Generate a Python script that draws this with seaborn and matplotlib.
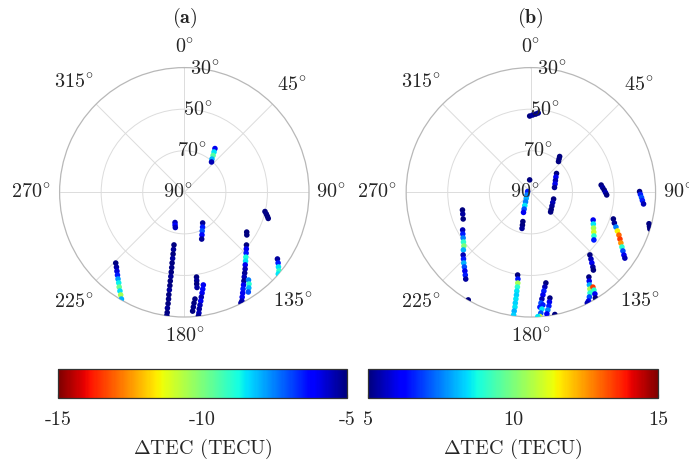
import numpy as np
import pandas as pd
import matplotlib
matplotlib.use("Agg")
import matplotlib.pyplot as plt
import seaborn as sns
from matplotlib import cm, colors

# ---- data: (a) negative dTEC, (b) positive dTEC ; azimuth deg, elevation deg ----
az_a = [35.0, 36.4, 38.0, 39.8, 41.9,
        224.1, 222.2, 220.5, 218.9, 217.4, 215.9, 214.5, 213.1, 211.8, 210.5,
        197.1, 195.7, 194.3,
        191.1, 190.7, 190.3, 190.0, 189.8, 189.5, 189.3, 189.1, 189.0, 188.8, 188.7, 188.6, 188.4, 188.3, 188.3, 188.1, 188.1,
        149.1, 152.3, 155.2, 157.5, 159.6,
        103.4, 104.8, 106.1, 107.3,
        122.5, 124.3, 130.3, 132.4, 134.5, 136.5, 138.3, 140.0, 141.6, 143.2, 144.7, 146.1, 147.4, 148.7, 149.9, 151.1, 152.1, 152.9,
        143.8, 144.8, 146.0, 147.3,
        125.6, 127.0, 128.4, 129.7, 131.0,
        171.8, 172.0, 172.3, 172.4,
        168.4, 169.2, 170.0, 170.8, 171.4, 172.1, 172.7, 173.1, 173.5,
        174.3, 175.0, 175.5, 176.0]
el_a = [64.3, 65.9, 67.5, 69.2, 70.4,
        42.6, 41.4, 40.1, 38.8, 37.5, 36.2, 34.7, 33.3, 31.9, 30.4,
        74.8, 73.6, 72.5,
        64.2, 62.0, 59.8, 57.7, 55.5, 53.3, 51.1, 49.0, 46.8, 44.6, 42.5, 40.2, 38.1, 35.9, 33.7, 31.6, 30.1,
        72.8, 71.1, 69.5, 67.8, 66.0,
        50.1, 49.2, 48.4, 47.7,
        54.4, 53.6, 50.8, 49.6, 48.3, 47.0, 45.7, 44.4, 42.9, 41.5, 40.1, 38.6, 37.1, 35.6, 34.0, 32.4, 30.8, 30.2,
        37.7, 36.0, 34.5, 33.0,
        34.9, 33.5, 32.2, 30.8, 30.1,
        48.8, 47.1, 45.5, 43.8,
        44.5, 42.6, 40.8, 38.9, 37.1, 35.2, 33.4, 31.5, 30.1,
        38.4, 36.5, 34.6, 32.7]
tec_a = [-6.0, -8.5, -9.5, -8.0, -5.5,
         -5.0, -5.3, -5.8, -6.5, -7.8, -8.6, -9.8, -8.4, -10.5, -8.0,
         -5.5, -6.2, -5.5,
         -5.0, -5.2, -5.0, -5.3, -5.0, -5.1, -5.0, -5.2, -5.0, -5.0, -5.3, -5.0, -5.1, -5.0, -5.2, -5.0, -5.1,
         -5.2, -6.5, -7.0, -6.3, -5.2,
         -5.0, -5.1, -5.0, -5.0,
         -5.0, -5.0, -5.0, -6.0, -6.5, -8.8, -8.5, -6.0, -5.5, -5.2, -5.5, -5.2, -6.0, -6.5, -6.0, -6.0, -5.5, -5.3,
         -7.5, -9.0, -8.0, -7.0,
         -5.3, -6.5, -8.5, -9.0, -8.5,
         -5.0, -5.2, -5.0, -5.3,
         -6.0, -6.3, -6.0, -5.5, -6.0, -5.5, -5.3, -5.5, -5.2,
         -5.0, -5.0, -5.1, -5.0]

az_b = [359.1, 1.3, 3.5, 5.3,
        38.8, 40.2, 41.9,
        53.7, 58.6, 64.4, 71.0, 78.5,
        354.4, 284.0, 235.3, 217.2, 209.1, 204.8, 201.9, 200.1,
        195.3, 194.4, 193.8,
        106.5, 115.1, 123.1, 130.3, 134.9,
        84.1, 86.2, 88.2, 90.2, 92.0,
        89.6, 91.1, 92.7, 94.2, 95.9,
        104.9, 106.1, 107.1,
        107.9, 110.2, 112.2, 114.1, 115.9, 117.7, 119.4, 121.0, 122.5, 124.0, 125.0,
        114.0, 116.9, 119.7, 122.3, 124.7, 127.1,
        136.7, 138.0, 139.2, 140.3, 141.2,
        145.6, 146.7, 147.7, 148.6, 149.6, 150.8, 152.1, 153.0,
        146.8, 147.2, 147.8, 148.6,
        255.5, 252.3, 248.5, 241.1, 238.5, 236.0, 233.6, 231.3, 229.5, 227.2, 225.3, 223.5, 221.7, 220.0, 218.4, 216.9,
        210.2,
        189.1, 188.5, 188.2, 188.1, 188.1, 188.0, 188.0, 188.0, 187.9, 188.0, 188.0,
        170.6, 171.6, 172.5, 173.3, 174.1, 174.8, 175.5,
        169.8, 170.4, 171.0, 171.8, 172.5,
        173.9, 174.6, 175.3, 175.9, 176.8,
        168.9]
el_b = [53.3, 52.8, 52.3, 51.7,
        67.9, 69.0, 70.1,
        74.7, 75.9, 76.9, 77.7, 78.4,
        84.0, 88.4, 87.7, 86.3, 84.7, 83.0, 81.3, 79.7,
        75.4, 73.7, 72.1,
        78.6, 78.4, 77.9, 77.2, 76.6,
        56.0, 55.4, 54.7, 54.1, 53.5,
        37.7, 37.3, 36.7, 36.2, 35.5,
        31.2, 30.6, 30.1,
        48.3, 47.2, 45.8, 44.4, 42.9, 41.6, 40.3, 38.9, 37.5, 36.0, 34.8,
        57.2, 56.3, 55.3, 54.2, 53.1, 52.0,
        48.6, 46.8, 45.1, 43.3, 42.0,
        40.6, 38.9, 37.3, 35.5, 33.8, 32.3, 30.8, 30.2,
        35.5, 34.0, 32.2, 30.4,
        56.0, 55.6, 55.0, 52.5, 51.6, 50.7, 49.7, 48.7, 47.3, 45.6, 44.4, 43.1, 41.9, 40.6, 39.2, 37.8,
        30.1,
        49.7, 47.8, 45.9, 44.0, 42.0, 40.1, 38.2, 36.2, 34.3, 32.3, 30.4,
        45.8, 44.0, 42.1, 40.3, 38.4, 36.5, 34.6,
        38.3, 36.5, 34.6, 32.8, 31.0,
        35.5, 33.6, 31.7, 30.1, 30.1,
        30.1]
tec_b = [5.0, 5.3, 5.0, 5.2,
         5.0, 5.0, 5.0,
         5.0, 6.0, 5.5, 6.0, 5.2,
         5.0, 6.5, 7.5, 8.0, 7.5, 8.5, 7.0, 6.0,
         5.0, 5.0, 5.2,
         5.0, 5.5, 5.2, 5.0, 5.0,
         5.0, 5.3, 5.0, 5.5, 5.0,
         5.0, 6.5, 7.0, 6.5, 5.5,
         5.0, 5.0, 5.0,
         5.0, 5.2, 7.5, 11.5, 13.0, 13.5, 12.5, 9.0, 7.0, 6.0, 5.5,
         6.0, 8.5, 10.5, 11.0, 9.0, 6.5,
         5.0, 5.5, 6.0, 5.3, 5.0,
         5.0, 6.0, 8.0, 10.5, 9.0, 7.0, 6.0, 5.5,
         13.5, 9.0, 6.0, 5.0,
         5.0, 5.3, 5.0, 5.5, 6.5, 7.5, 9.0, 10.0, 8.0, 5.5, 6.5, 8.0, 7.0, 6.0, 6.5, 5.3,
         5.0,
         5.0, 6.5, 10.5, 9.0, 8.5, 8.3, 8.5, 8.3, 8.5, 8.0, 8.3,
         5.0, 5.5, 6.5, 6.0, 5.5, 7.0, 6.5,
         5.0, 6.0, 6.5, 7.5, 6.0,
         6.5, 8.5, 7.0, 11.0, 8.5,
         5.0]

az_ticks = [0, 45, 90, 135, 180, 225, 270, 315]
el_ticks = [30, 50, 70, 90]
cbar_ticks_a = [-15, -10, -5]
cbar_ticks_b = [5, 10, 15]

sns.set_style("white")
plt.rcParams["font.family"] = ["cmr10", "DejaVu Serif"]
plt.rcParams["mathtext.fontset"] = "cm"
plt.rcParams["axes.unicode_minus"] = False
plt.rcParams["axes.formatter.use_mathtext"] = True

FS = 14.5
JET = plt.get_cmap("jet")
JET_R = plt.get_cmap("jet_r")
fig = plt.figure(figsize=(6.89, 4.63), dpi=100)


def sky_panel(rect, az, el, tec, cmap, lims, title):
    ax = fig.add_axes(rect, projection="polar")
    ax.set_theta_zero_location("N")
    ax.set_theta_direction(-1)
    df = pd.DataFrame({"theta": np.deg2rad(az), "r": 90 - np.array(el), "tec": tec})
    sns.scatterplot(data=df, x="theta", y="r", hue="tec", palette=cmap, hue_norm=lims,
                    s=16, linewidth=0, legend=False, ax=ax, zorder=3)
    ax.set_ylim(0, 60)
    ax.set_xticks(np.deg2rad(az_ticks))
    ax.set_yticks([20, 40])
    ax.set_xticklabels([])
    ax.set_yticklabels([])
    ax.set_xlabel("")
    ax.set_ylabel("")
    ax.grid(True, color="#dcdcdc", linewidth=0.7)
    ax.spines["polar"].set_edgecolor("#b8b8b8")
    ax.spines["polar"].set_linewidth(0.9)
    # azimuth labels around the rim
    rr = [70, 73, 70.5, 74, 69, 75, 74, 75]
    for a, r in zip(az_ticks, rr):
        ax.text(np.deg2rad(a), r, r"$%d^{\circ}$" % a, ha="center", va="center", fontsize=FS)
    # elevation labels
    for e in el_ticks[:-1]:
        ax.text(np.deg2rad(9.5), 90 - e, r"$%d^{\circ}$" % e, ha="center", va="center", fontsize=FS)
    ax.text(np.deg2rad(270), 3.0, r"$90^{\circ}$", ha="center", va="center", fontsize=FS)
    fig.text(rect[0] + rect[2] / 2, 1 - 18 / 463, r"$\mathbf{(%s)}$" % title,
             ha="center", va="center", fontsize=FS)
    return ax


def tec_bar(rect, cmap, lims, ticks):
    cax = fig.add_axes(rect)
    sm = cm.ScalarMappable(norm=colors.Normalize(*lims), cmap=cmap)
    cb = fig.colorbar(sm, cax=cax, orientation="horizontal")
    cb.set_ticks(ticks)
    cb.set_ticklabels([str(t) for t in ticks])
    cb.outline.set_edgecolor("#333333")
    cb.outline.set_linewidth(0.9)
    cax.tick_params(axis="x", direction="in", length=3, width=0.8, color="#333333",
                    labelsize=FS, pad=9)
    cax.set_xlabel(r"$\Delta$TEC (TECU)", fontsize=FS, labelpad=6)
    return cb


sky_panel([0.0865, 0.3153, 0.362, 0.5387], az_a, el_a, tec_a, JET_R, (-15, -5), "a")
sky_panel([0.5895, 0.3153, 0.362, 0.5387], az_b, el_b, tec_b, JET, (5, 15), "b")
tec_bar([0.0846, 0.1397, 0.4186, 0.0626], JET_R, (-15, -5), cbar_ticks_a)
tec_bar([0.5345, 0.1397, 0.4209, 0.0626], JET, (5, 15), cbar_ticks_b)

fig.savefig("out.png", dpi=100)
